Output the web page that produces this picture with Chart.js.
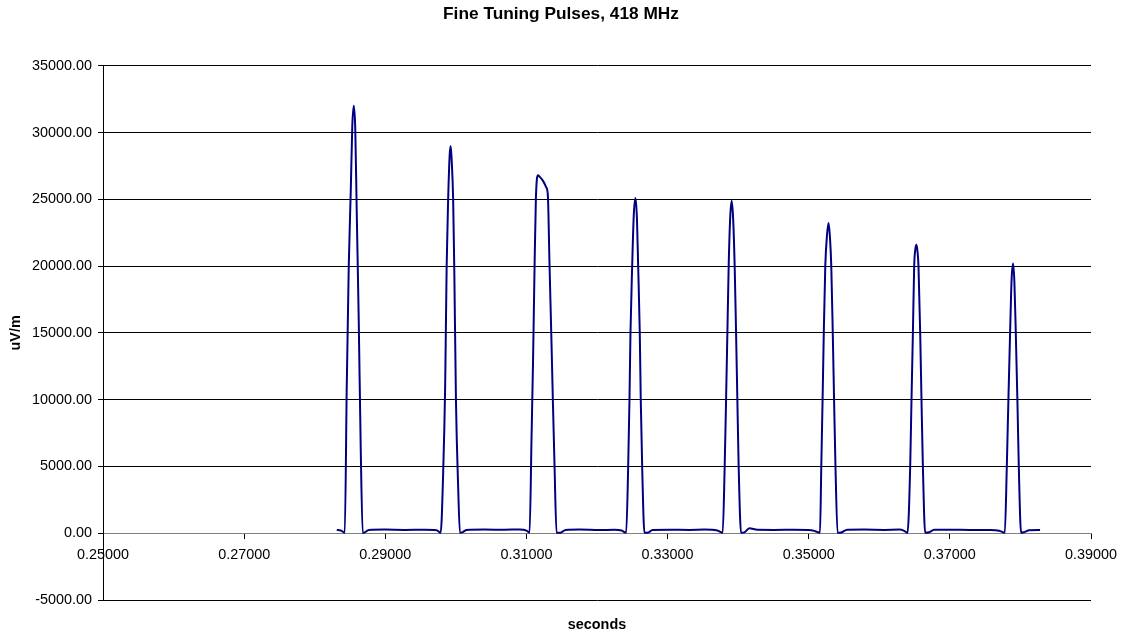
<!DOCTYPE html>
<html>
<head>
<meta charset="utf-8">
<title>Fine Tuning Pulses, 418 MHz</title>
<script src="https://cdn.jsdelivr.net/npm/chart.js@4.4.1/dist/chart.umd.min.js"></script>
<style>
    html, body { margin: 0; padding: 0; background: #fff; }
    #wrap { width: 1122px; height: 632px; position: relative; }
</style>
</head>
<body>
<div id="wrap"><canvas id="pulseChart"></canvas></div>
<script>
// time of each sample (s) and field strength (uV/m)
const seconds = [
    0.283125, 0.283691,
    // pulse 1
    0.284257, 0.284540, 0.284823, 0.285107, 0.285319, 0.285531, 0.285744, 0.285956, 0.286239, 0.286522, 0.286805, 0.287088, 0.287655,
    0.289920, 0.292751, 0.295582, 0.297281,
    // pulse 2
    0.297847, 0.298201, 0.298484, 0.298696, 0.298909, 0.299121, 0.299263, 0.299404, 0.299616, 0.299772, 0.300013, 0.300324, 0.300579, 0.300961, 0.301528,
    0.304076, 0.306907, 0.309030, 0.310021,
    // pulse 3
    0.310446, 0.310729, 0.310941, 0.311154, 0.311338, 0.311621, 0.311861, 0.312328, 0.312809, 0.313036, 0.313277, 0.313518, 0.313744, 0.313985, 0.314268, 0.314834, 0.315542,
    0.317524, 0.320355, 0.322478, 0.323469,
    // pulse 4
    0.324135, 0.324418, 0.324602, 0.324743, 0.324984, 0.325210, 0.325451, 0.325664, 0.325833, 0.326060, 0.326201, 0.326400, 0.326725, 0.327291, 0.327858,
    0.330264, 0.333095, 0.335219, 0.337059,
    // pulse 5
    0.337809, 0.338092, 0.338290, 0.338475, 0.338659, 0.338871, 0.339084, 0.339296, 0.339508, 0.339706, 0.339890, 0.340074, 0.340414, 0.340881, 0.341589, 0.342721,
    0.345128, 0.347959, 0.350366, 0.350932,
    // pulse 6
    0.351597, 0.351781, 0.351965, 0.352135, 0.352348, 0.352588, 0.352815, 0.353027, 0.353197, 0.353409, 0.353593, 0.353792, 0.354089, 0.354613, 0.355462,
    0.357868, 0.360700, 0.362823, 0.363531,
    // pulse 7
    0.363998, 0.364380, 0.364564, 0.364763, 0.364946, 0.365116, 0.365272, 0.365414, 0.365555, 0.365796, 0.365980, 0.366178, 0.366504, 0.367070, 0.367778,
    0.369901, 0.372732, 0.375563, 0.376979,
    // pulse 8
    0.377786, 0.378069, 0.378296, 0.378536, 0.378749, 0.378961, 0.379145, 0.379343, 0.379570, 0.379768, 0.380093, 0.380518, 0.381226, 0.382783
];

const uvm = [
    240, 210,
    30, 11000, 20000, 25600, 30400, 32000, 30300, 24000, 15900, 6300, 20, 60, 250,
    270, 250, 260, 230,
    40, 4500, 11000, 20000, 25000, 28300, 29000, 28000, 25000, 20000, 10000, 3500, 30, 80, 240,
    270, 260, 280, 200,
    30, 7300, 13000, 20000, 25000, 26800, 26700, 26400, 25900, 25300, 20000, 15000, 10000, 5000, 30, 40, 250,
    280, 240, 260, 200,
    30, 5000, 10000, 15000, 20000, 23800, 25090, 23500, 20000, 15000, 10000, 5000, 30, 60, 250,
    260, 250, 270, 200,
    30, 5000, 10000, 15000, 20000, 23600, 24890, 23500, 20000, 15000, 10000, 5000, 30, 60, 380, 260,
    250, 260, 230, 150,
    30, 5000, 10000, 15000, 20000, 22300, 23220, 22000, 20000, 15000, 10000, 5000, 30, 60, 260,
    270, 250, 270, 180,
    30, 5000, 10000, 15000, 20000, 21300, 21600, 21100, 20000, 15000, 10000, 5000, 30, 70, 260,
    260, 250, 240, 190,
    30, 5000, 10000, 15000, 19000, 20200, 18800, 15000, 10000, 5000, 30, 80, 220, 250
];

const xMin = 0.25, xMax = 0.39, xStep = 0.02;
const yMin = -5000, yMax = 35000, yStep = 5000;

document.addEventListener('DOMContentLoaded', () => {
    Chart.defaults.font.family = '"Liberation Sans", Arial, sans-serif';
    Chart.defaults.color = '#000';

    const ctx = document.getElementById('pulseChart').getContext('2d');

    const data = {
        datasets: [{
            label: 'uV/m',
            data: seconds.map((s, i) => ({ x: s, y: uvm[i] })),
            borderColor: '#000080',
            borderWidth: 2,
            pointRadius: 0,
            fill: false,
            cubicInterpolationMode: 'monotone'
        }]
    };

    const config = {
        type: 'line',
        data: data,
        options: {
            responsive: true,
            maintainAspectRatio: false,
            animation: false,
            layout: { padding: 0 },
            plugins: {
                legend: { display: false },
                tooltip: { enabled: false },
                title: {
                    display: true,
                    text: 'Fine Tuning Pulses, 418 MHz',
                    font: { size: 17.3, weight: 'bold' },
                    color: '#000',
                    padding: { top: 4, bottom: 41 }
                }
            },
            scales: {
                x: {
                    type: 'linear',
                    min: xMin,
                    max: xMax,
                    position: { y: 0 },
                    grid: { drawOnChartArea: false, color: '#000', tickLength: 5 },
                    border: { color: '#808080', width: 1 },
                    ticks: {
                        stepSize: xStep,
                        autoSkip: false,
                        maxRotation: 0,
                        padding: 8,
                        font: { size: 14.4 },
                        callback: (v) => v.toFixed(5)
                    },
                    // end labels may hang over the margins, like the original
                    afterFit: (s) => { s.paddingLeft = 0; s.paddingRight = 0; }
                },
                // bottom strip that only carries the axis title
                xb: {
                    type: 'linear',
                    axis: 'x',
                    position: 'bottom',
                    grid: { display: false, drawTicks: false },
                    border: { display: false },
                    ticks: { display: false },
                    title: {
                        display: true,
                        text: 'seconds',
                        font: { size: 14.4, weight: 'bold', lineHeight: 1 },
                        padding: { top: 17.6, bottom: 0 }
                    }
                },
                y: {
                    min: yMin,
                    max: yMax,
                    grid: { color: '#000', tickLength: 5, lineWidth: 1 },
                    border: { color: '#000', width: 1 },
                    ticks: {
                        stepSize: yStep,
                        padding: 6,
                        font: { size: 14.4 },
                        callback: (v) => v.toFixed(2)
                    },
                    title: {
                        display: true,
                        text: 'uV/m',
                        font: { size: 14.4, weight: 'bold' },
                        padding: { top: 7, bottom: 4 }
                    },
                    afterFit: (s) => { s.width = 103; }
                },
                // empty right margin
                yr: {
                    type: 'linear',
                    position: 'right',
                    grid: { display: false, drawTicks: false },
                    border: { display: false },
                    ticks: { display: false },
                    afterFit: (s) => { s.width = 31; }
                }
            }
        }
    };

    new Chart(ctx, config);
});
</script>
</body>
</html>
